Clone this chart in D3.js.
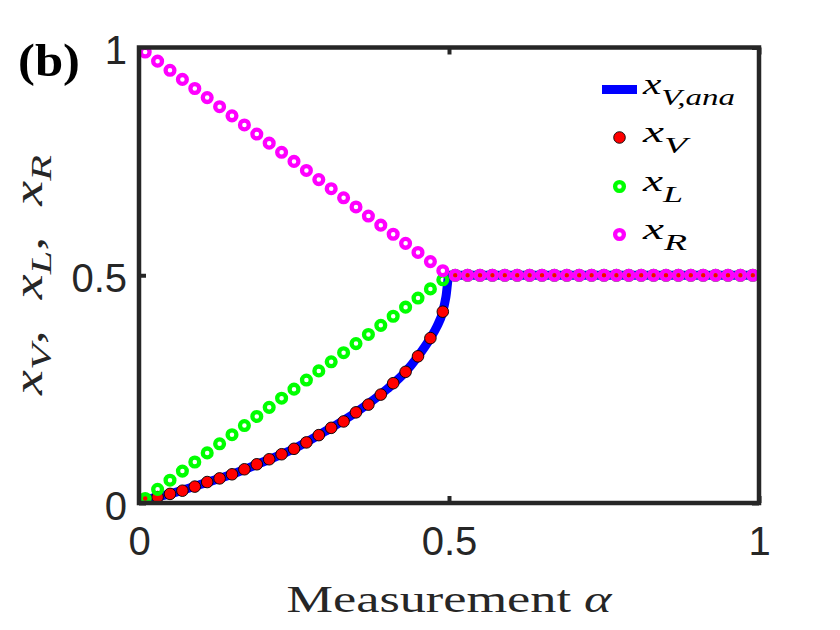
<!DOCTYPE html>
<html lang="en">
<head>
<meta charset="UTF-8">
<title>x_V, x_L, x_R vs measurement</title>
<style>
body { margin: 0; background: #fff; }
.tick text { font-family: "Liberation Sans", Arial, sans-serif; font-size: 40px; fill: #262626; }
.tick line { stroke: #262626; stroke-width: 4; }
.it { font-style: italic; }
</style>
</head>
<body>
<script src="https://d3js.org/d3.v7.min.js"></script>
<script>
// measurement strength, one marker every 0.02
const alpha = [0.01,0.03,0.05,0.07,0.09,0.11,0.13,0.15,0.17,0.19,0.21,0.23,0.25,0.27,0.29,0.31,0.33,0.35,0.37,0.39,0.41,0.43,0.45,0.47,0.49,
  0.51,0.53,0.55,0.57,0.59,0.61,0.63,0.65,0.67,0.69,0.71,0.73,0.75,0.77,0.79,0.81,0.83,0.85,0.87,0.89,0.91,0.93,0.95,0.97,0.99]
const xV = [0.006,0.013,0.020,0.027,0.036,0.046,0.054,0.063,0.074,0.085,0.096,0.107,0.119,0.133,0.149,0.165,0.179,0.199,0.216,0.238,0.263,0.288,0.322,0.362,0.420,
  0.5,0.5,0.5,0.5,0.5,0.5,0.5,0.5,0.5,0.5,0.5,0.5,0.5,0.5,0.5,0.5,0.5,0.5,0.5,0.5,0.5,0.5,0.5,0.5,0.5]
const xL = [0.01,0.03,0.05,0.07,0.09,0.11,0.13,0.15,0.17,0.19,0.21,0.23,0.25,0.27,0.29,0.31,0.33,0.35,0.37,0.39,0.41,0.43,0.45,0.47,0.49,
  0.5,0.5,0.5,0.5,0.5,0.5,0.5,0.5,0.5,0.5,0.5,0.5,0.5,0.5,0.5,0.5,0.5,0.5,0.5,0.5,0.5,0.5,0.5,0.5,0.5]
const xR = [0.99,0.97,0.95,0.93,0.91,0.89,0.87,0.85,0.83,0.81,0.79,0.77,0.75,0.73,0.71,0.69,0.67,0.65,0.63,0.61,0.59,0.57,0.55,0.53,0.51,
  0.5,0.5,0.5,0.5,0.5,0.5,0.5,0.5,0.5,0.5,0.5,0.5,0.5,0.5,0.5,0.5,0.5,0.5,0.5,0.5,0.5,0.5,0.5,0.5,0.5]
// analytical curve
const alphaAna = [0,0.01,0.05,0.1,0.15,0.2,0.25,0.3,0.35,0.4,0.43,0.45,0.47,0.48,0.49,0.495,0.5,1]
const xVAna = [0,0.006,0.020,0.041,0.063,0.090,0.119,0.157,0.199,0.250,0.288,0.322,0.362,0.386,0.420,0.452,0.5,0.5]

const xTicks = [0, 0.5, 1]
const yTicks = [0, 0.5, 1]
const tickLabels = ["0", "0.5", "1"]

const width = 840, height = 630
const margin = {top: 47.5, right: 81, bottom: 127, left: 139}
const ink = "#262626"

const x = d3.scaleLinear().domain([0, 1]).range([margin.left, width - margin.right])
const y = d3.scaleLinear().domain([0, 1]).range([height - margin.bottom, margin.top])

const svg = d3.select("body").append("svg")
  .attr("width", width)
  .attr("height", height)

svg.append("defs").append("clipPath").attr("id", "plot")
  .append("rect")
  .attr("x", x(0)).attr("y", y(1))
  .attr("width", x(1) - x(0)).attr("height", y(0) - y(1))

const fmt = d => tickLabels[xTicks.indexOf(d)]

// ticks point inward, MATLAB style
const gx = svg.append("g")
  .attr("transform", `translate(0,${y(0)})`)
  .call(d3.axisBottom(x).tickValues(xTicks).tickFormat(fmt).tickSizeInner(-7).tickSizeOuter(0).tickPadding(24))
const gxTop = svg.append("g")
  .attr("transform", `translate(0,${y(1)})`)
  .call(d3.axisTop(x).tickValues(xTicks).tickFormat("").tickSizeInner(-7).tickSizeOuter(0))
const gy = svg.append("g")
  .attr("transform", `translate(${x(0)},0)`)
  .call(d3.axisLeft(y).tickValues(yTicks).tickFormat(fmt).tickSizeInner(-7).tickSizeOuter(0).tickPadding(12))
const gyRight = svg.append("g")
  .attr("transform", `translate(${x(1)},0)`)
  .call(d3.axisRight(y).tickValues(yTicks).tickFormat("").tickSizeInner(-7).tickSizeOuter(0))
;[gx, gxTop, gy, gyRight].forEach(g => g.select(".domain").remove())
gy.selectAll(".tick text").attr("dy", "0.4em")

const plot = svg.append("g").attr("clip-path", "url(#plot)")

plot.append("path")
  .datum(alphaAna.map((a, i) => [a, xVAna[i]]))
  .attr("fill", "none")
  .attr("stroke", "#0000ff")
  .attr("stroke-width", 9)
  .attr("stroke-linejoin", "round")
  .attr("d", d3.line().x(d => x(d[0])).y(d => y(d[1])).curve(d3.curveMonotoneX))

plot.append("g").selectAll("circle")
  .data(alpha.map((a, i) => [a, xV[i]]))
  .join("circle")
    .attr("cx", d => x(d[0]))
    .attr("cy", d => y(d[1]))
    .attr("r", 5.8)
    .attr("fill", "#ff0000")
    .attr("stroke", "#000")
    .attr("stroke-width", 0.9)

const rings = (vals, color) => plot.append("g").selectAll("circle")
  .data(alpha.map((a, i) => [a, vals[i]]))
  .join("circle")
    .attr("cx", d => x(d[0]))
    .attr("cy", d => y(d[1]))
    .attr("r", 4.4)
    .attr("fill", "none")
    .attr("stroke", color)
    .attr("stroke-width", 4.3)
rings(xL, "#00ff00")
rings(xR, "#ff00ff")

// axes box
svg.append("rect")
  .attr("x", x(0)).attr("y", y(1))
  .attr("width", x(1) - x(0)).attr("height", y(0) - y(1))
  .attr("fill", "none")
  .attr("stroke", ink)
  .attr("stroke-width", 4.5)

// legend
const legend = svg.append("g")
  .attr("font-family", "'Liberation Serif', 'Times New Roman', serif")
  .attr("fill", "#000")
const rows = [
  {sub: "V,ana", y: 89.5, len: 92},
  {sub: "V", y: 137.5, len: 44},
  {sub: "L", y: 186.5, len: 40},
  {sub: "R", y: 234.5, len: 44}
]
legend.append("line")
  .attr("x1", 602).attr("x2", 637)
  .attr("y1", rows[0].y).attr("y2", rows[0].y)
  .attr("stroke", "#0000ff").attr("stroke-width", 9)
legend.append("circle")
  .attr("cx", 619.5).attr("cy", rows[1].y).attr("r", 5.8)
  .attr("fill", "#ff0000").attr("stroke", "#000").attr("stroke-width", 0.9)
legend.append("circle")
  .attr("cx", 619.5).attr("cy", rows[2].y).attr("r", 4.4)
  .attr("fill", "none").attr("stroke", "#00ff00").attr("stroke-width", 4.3)
legend.append("circle")
  .attr("cx", 619.5).attr("cy", rows[3].y).attr("r", 4.4)
  .attr("fill", "none").attr("stroke", "#ff00ff").attr("stroke-width", 4.3)
rows.forEach(r => {
  const t = legend.append("text")
    .attr("x", 643).attr("y", r.y + 4)
    .attr("textLength", r.len)
    .attr("lengthAdjust", "spacingAndGlyphs")
  t.append("tspan").attr("class", "it").attr("font-size", 30).text("x")
  t.append("tspan").attr("class", "it").attr("font-size", 24).attr("dy", 11).text(r.sub)
})

// y label
const yl = svg.append("text")
  .attr("transform", "translate(42,275) rotate(-90)")
  .attr("text-anchor", "middle")
  .attr("font-family", "'Liberation Serif', 'Times New Roman', serif")
  .attr("font-size", 40)
  .attr("fill", ink)
  .attr("textLength", 240)
  .attr("lengthAdjust", "spacingAndGlyphs")
;[["V", 0], ["L", 22], ["R", 22]].forEach(([s, gap], i) => {
  yl.append("tspan").attr("class", "it").attr("dx", gap).text("x")
  yl.append("tspan").attr("class", "it").attr("font-size", 30).attr("dy", 9).text(s)
  if (i < 2) yl.append("tspan").attr("dy", -9).text(",")
})

// x label
const xl = svg.append("text")
  .attr("x", x(0.5)).attr("y", 612)
  .attr("text-anchor", "middle")
  .attr("font-family", "'Liberation Serif', 'Times New Roman', serif")
  .attr("font-size", 38)
  .attr("fill", ink)
  .attr("textLength", 325)
  .attr("lengthAdjust", "spacingAndGlyphs")
xl.append("tspan").text("Measurement ")
xl.append("tspan").attr("class", "it").text("α")

// panel tag
svg.append("text")
  .attr("x", 18).attr("y", 76)
  .attr("font-family", "'Liberation Serif', 'Times New Roman', serif")
  .attr("font-weight", "bold")
  .attr("font-size", 46)
  .attr("fill", "#000")
  .attr("textLength", 62)
  .attr("lengthAdjust", "spacingAndGlyphs")
  .text("(b)")
</script>
</body>
</html>
